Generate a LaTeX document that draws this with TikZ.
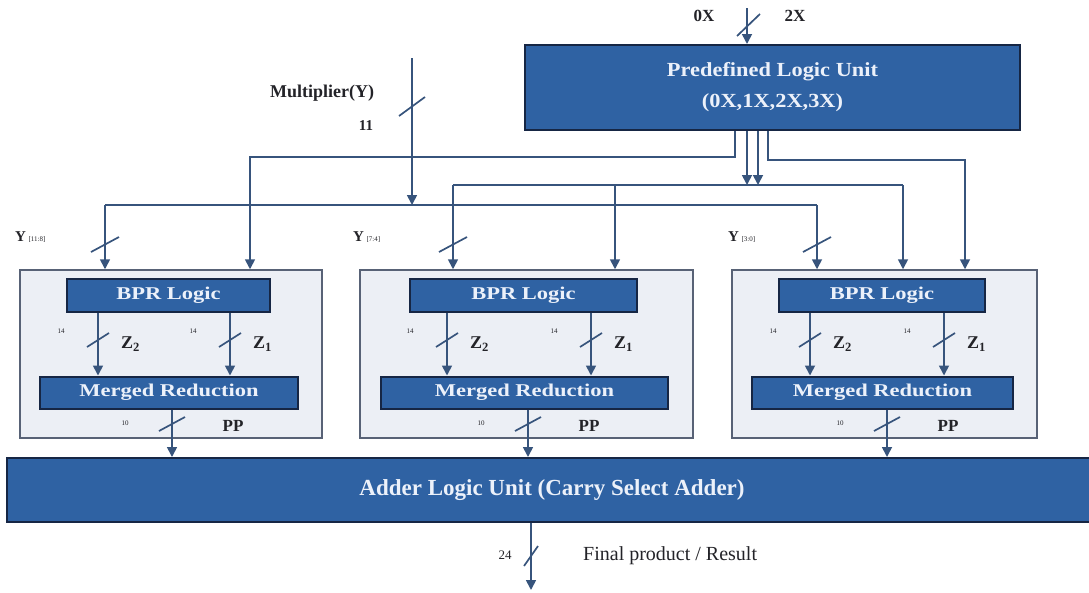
\documentclass[tikz,border=0pt]{standalone}
\usepackage{fontspec}
\setmainfont{Liberation Serif}
\newfontfamily\widefont[FakeStretch=1.25]{Liberation Serif}
\newfontfamily\plufont[FakeStretch=1.12]{Liberation Serif}
\usetikzlibrary{arrows.meta}

\definecolor{unitblue}{RGB}{47,98,163}
\definecolor{unitedge}{RGB}{22,38,68}
\definecolor{unittext}{RGB}{236,241,250}
\definecolor{wirec}{RGB}{55,84,124}
\definecolor{panelfill}{RGB}{236,239,245}
\definecolor{paneledge}{RGB}{88,98,118}
\definecolor{lblc}{RGB}{35,35,40}

\tikzset{
  unit/.style={draw=unitedge, fill=unitblue, line width=2pt, text=unittext, inner sep=0pt},
  panel/.style={draw=paneledge, fill=panelfill, line width=1.5pt, inner sep=0pt},
  wire/.style={draw=wirec, line width=1.7pt},
  arr/.style={wire, -{Triangle[length=10pt,width=10pt]}},
  slash/.style={draw=wirec, line width=1.7pt},
  lbl/.style={text=lblc, inner sep=0pt, font=\bfseries\fontsize{17}{20}\selectfont},
  bitw/.style={text=lblc, inner sep=0pt, font=\fontsize{7}{8}\selectfont},
}

\begin{document}
\begin{tikzpicture}[x=1pt, y=-1pt]
\useasboundingbox (0,0) rectangle (1089,592);

% --- units ---
\node[unit, minimum width=495pt, minimum height=85pt, align=center,
      font=\plufont\bfseries\fontsize{20}{31}\selectfont]
  (plu) at (772.5,87.5) {Predefined Logic Unit\\(0X,1X,2X,3X)};

\node[unit, minimum width=1090pt, minimum height=64pt,
      font=\bfseries\fontsize{23}{26}\selectfont]
  (adder) at (552,490) {Adder Logic Unit (Carry Select Adder)};

% --- three partial product blocks ---
\foreach \i/\cx/\cw/\bx/\bw/\mx/\mw in {1/171/302/168.5/203/169/258,
    2/526.5/333/523.5/227/524.5/287, 3/884.5/305/882/206/882.5/261} {
  \node[panel, minimum width=\cw pt, minimum height=168pt] (p\i) at (\cx,354) {};
  \node[unit, minimum width=\bw pt, minimum height=33pt,
        font=\widefont\bfseries\fontsize{18}{20}\selectfont]
    (bpr\i) at (\bx,295) {BPR Logic};
  \node[unit, minimum width=\mw pt, minimum height=32pt,
        font=\widefont\bfseries\fontsize{18}{20}\selectfont]
    (mr\i) at (\mx,392.5) {Merged Reduction};
}

% Z1, Z2 and PP inside each block
\foreach \i/\za/\zb/\pp in {1/98/230/172, 2/447/591/528, 3/810/944/887} {
  \draw[arr] (bpr\i.south -| \za,0) -- (mr\i.north -| \za,0);
  \draw[arr] (bpr\i.south -| \zb,0) -- (mr\i.north -| \zb,0);
  \draw[slash] ({\za-11},347) -- ({\za+11},333);
  \draw[slash] ({\zb-11},347) -- ({\zb+11},333);
  \node[bitw] (wa\i) at ({\za-37},331) {14};
  \node[bitw] (wb\i) at ({\zb-37},331) {14};
  \node[lbl, anchor=west, font=\bfseries\fontsize{18}{20}\selectfont]
    (za\i) at ({\za+23},344) {Z\textsubscript{2}};
  \node[lbl, anchor=west, font=\bfseries\fontsize{18}{20}\selectfont]
    (zb\i) at ({\zb+23},344) {Z\textsubscript{1}};
  \draw[arr] (mr\i.south -| \pp,0) -- (adder.north -| \pp,0);
  \draw[slash] ({\pp-13},431) -- ({\pp+13},417);
  \node[bitw] (wp\i) at ({\pp-47},423) {10};
  \node[lbl] (pp\i) at ({\pp+61},426) {PP};
}

% --- inputs ---
\coordinate (xin) at (747,8);
\draw[arr] (xin) -- (plu.north -| xin);
\draw[slash] (737,36) -- (760,14);
\node[lbl] (x0) at (704,16) {0X};
\node[lbl] (x2) at (795,16) {2X};

\coordinate (yin) at (412,58);
\node[lbl, font=\bfseries\fontsize{18}{20}\selectfont] (ylab) at (322,93) {Multiplier(Y)};
\node[lbl, font=\bfseries\fontsize{15}{18}\selectfont] (ybits) at (366,126) {11};
\draw[slash] (399,116) -- (425,97);

% Y bus and X bus
\coordinate (yl) at (105,205);
\coordinate (yr) at (817,205);
\coordinate (xl) at (453,185);
\coordinate (xr) at (903,185);
\draw[wire] (yl) -- (yr);
\draw[wire] (xl) -- (xr);
\draw[arr] (yin) -- (yin |- yl);

% PLU outputs
\draw[arr] (plu.south -| 735,0) |- (250,157) -- (p1.north -| 250,0);
\draw[arr] (plu.south -| 747,0) -- (xl -| 747,0);
\draw[arr] (plu.south -| 758,0) -- (xl -| 758,0);
\draw[arr] (plu.south -| 768,0) |- (965,160) -- (p3.north -| 965,0);

% drops into the blocks
\draw[arr] (yl) -- (p1.north -| yl);
\draw[arr] (xl) -- (p2.north -| xl);
\draw[arr] (xl -| 615,0) -- (p2.north -| 615,0);
\draw[arr] (xr) -- (p3.north -| xr);
\draw[arr] (yr) -- (p3.north -| yr);

\foreach \i/\yx/\lx/\rng in {1/105/15/11:8, 2/453/353/7:4, 3/817/728/3:0} {
  \draw[slash] ({\yx-14},252) -- ({\yx+14},237);
  \node[lbl, anchor=west, font=\bfseries\fontsize{15}{18}\selectfont]
    (ysel\i) at (\lx,237) {Y\,{\mdseries\fontsize{7}{8}\selectfont[\rng]}};
}

% --- result ---
\coordinate (res) at (531,590);
\draw[arr] (adder.south -| res) -- (res);
\draw[slash] (524,566) -- (538,546);
\node[lbl, font=\fontsize{13}{15}\selectfont] (rbits) at (505,555) {24};
\node[lbl, anchor=west, font=\fontsize{20}{22}\selectfont] (rlab) at (583,556) {Final product / Result};

\end{tikzpicture}
\end{document}
